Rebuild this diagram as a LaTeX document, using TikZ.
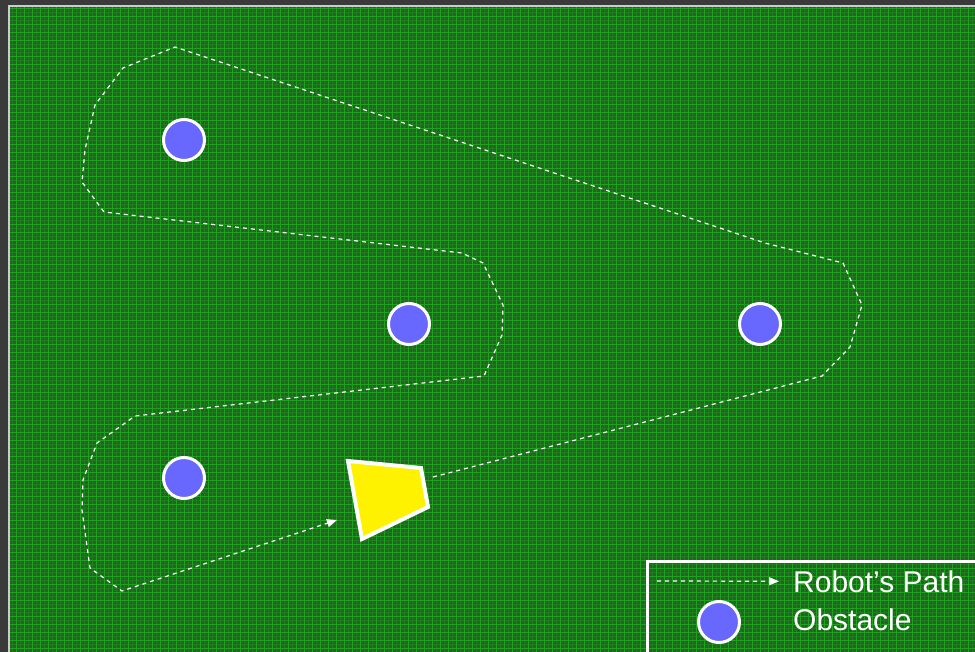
\documentclass[tikz,border=0pt]{standalone}
\usepackage{fontspec}
\setmainfont{Liberation Sans}
\usepackage{tikz}
\usetikzlibrary{arrows.meta,positioning}
\definecolor{fieldGreen}{RGB}{38,98,38}
\definecolor{gridGreen}{RGB}{24,190,24}
\definecolor{frameGrey}{RGB}{58,58,58}
\definecolor{obsBlue}{RGB}{104,104,255}

\begin{document}
\begin{tikzpicture}[x=1pt,y=-1pt,
    obstacle/.style={circle, draw=white, line width=3pt, fill=obsBlue,
      minimum size=41pt, inner sep=0pt},
    robotpath/.style={white, line width=1.2pt, dash pattern=on 4pt off 4pt},
    legendtext/.style={text=white, font=\fontsize{30}{33}\selectfont,
      inner sep=0pt, anchor=base west},
    >={Triangle[length=10pt,width=8pt]}
  ]
    \useasboundingbox (0,0) rectangle (975,652);

    % field with grid
    \fill[frameGrey] (0,0) rectangle (975,652);
    \fill[fieldGreen] (9,6) rectangle (975,652);
    \draw[gridGreen, line width=0.5pt, opacity=0.25, step=4pt] (9,652) grid (975,6);
    \draw[gridGreen, line width=0.9pt, opacity=0.6, step=8pt] (9,652) grid (975,6);
    \draw[gray!40!white, line width=1.5pt] (9,652) -- (9,6) -- (975,6);

    % robot
    \coordinate (rA) at (348,461);
    \coordinate (rB) at (421,468);
    \coordinate (rC) at (428,507);
    \coordinate (rD) at (362,539);
    \filldraw[fill=yellow, draw=white, line width=4pt, line join=miter]
      (rA) -- (rB) -- (rC) -- (rD) -- cycle;

    % path around the obstacles
    \coordinate (pathstart) at (433,477);
    \coordinate (pathend) at (337,520);
    \draw[robotpath,->] (pathstart) -- (822,376) -- (850,347) -- (862,305)
      -- (843,263) -- (765,243) -- (175,47) -- (123,68) -- (95,105)
      -- (85,150) -- (82,182) -- (104,212) -- (462,253) -- (483,263)
      -- (503,305) -- (502,335) -- (484,376) -- (135,416) -- (97,443)
      -- (83,480) -- (82,510) -- (90,568) -- (122,591) -- (pathend);

    \node[obstacle] (obsNW) at (184,140) {};
    \node[obstacle] (obsMid) at (409,324) {};
    \node[obstacle] (obsEast) at (760,324) {};
    \node[obstacle] (obsSW) at (184,478) {};

    % legend
    \draw[white, line width=3pt] (985,561) -- (647,561) -- (647,660);
    \node[legendtext] (pathlabel) at (793,592) {Robot’s Path};
    \node[legendtext] (obslabel) at (793,630) {Obstacle};
    \node[obstacle] (legendobs) at (719,622) {};
    \coordinate (legendstart) at (657,581);
    \draw[robotpath,->] (legendstart) -- ([xshift=-14pt]pathlabel.west);
\end{tikzpicture}
\end{document}
